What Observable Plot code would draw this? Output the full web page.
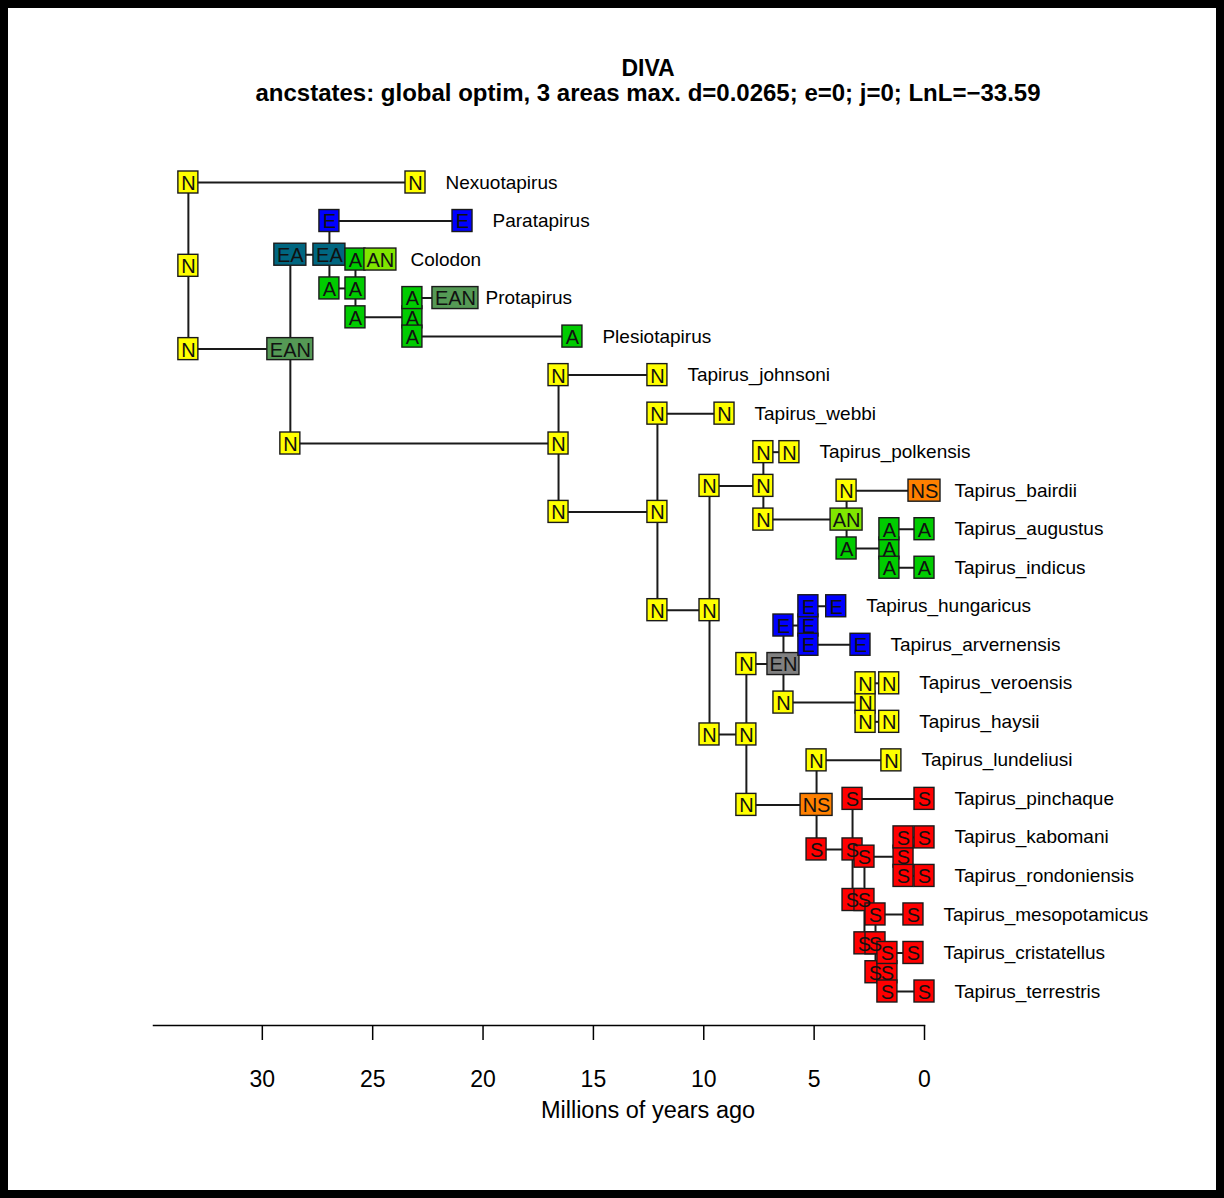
<!DOCTYPE html>
<html><head><meta charset="utf-8">
<script src="https://cdn.jsdelivr.net/npm/d3@7"></script>
<script src="https://cdn.jsdelivr.net/npm/@observablehq/plot@0.6"></script>
<style>
body{margin:0;background:#fff;font-family:"Liberation Sans",Arial,Helvetica,sans-serif;}
#wrap{position:relative;width:1224px;height:1198px;overflow:hidden;background:#fff;}
#chart{position:absolute;left:0;top:0;}
#frame{position:absolute;left:0;top:0;width:1224px;height:1198px;box-sizing:border-box;border:8px solid #000;pointer-events:none;}
.t{position:absolute;left:0;width:1296px;text-align:center;color:#000;white-space:nowrap;line-height:1;}
</style></head><body>
<div id="wrap">
<div id="chart"></div>
<div class="t" style="top:57px;font-size:23px;font-weight:bold;">DIVA</div>
<div class="t" style="top:81px;font-size:24px;font-weight:bold;">ancstates: global optim, 3 areas max. d=0.0265; e=0; j=0; LnL=−33.59</div>
<div class="t" style="top:1099px;font-size:23.5px;">Millions of years ago</div>
<div id="frame"></div>
</div>
<script>
// ---- data ----
const tipNames = ["Nexuotapirus","Paratapirus","Colodon","Protapirus","Plesiotapirus","Tapirus_johnsoni","Tapirus_webbi","Tapirus_polkensis","Tapirus_bairdii","Tapirus_augustus","Tapirus_indicus","Tapirus_hungaricus","Tapirus_arvernensis","Tapirus_veroensis","Tapirus_haysii","Tapirus_lundeliusi","Tapirus_pinchaque","Tapirus_kabomani","Tapirus_rondoniensis","Tapirus_mesopotamicus","Tapirus_cristatellus","Tapirus_terrestris"];
const tipAges = [23.06,20.93,24.65,21.25,15.95,12.10,9.06,6.12,0,0,0,4.0,2.9,1.6,1.6,1.5,0,0,0,0.5,0.5,0];
const tipStates = ["N","E","AN","EAN","A","N","N","N","NS","A","A","E","E","N","N","N","S","S","S","S","S","S"];

const nodeIds = ["n1","n2","n3","n4","n5","n6","n7","n8","n9","n10","n11","n12","n13","n14","n15","n16","n17","n18","n19","n20","n21"];
const nodeAges = [33.35,28.73,26.96,25.78,23.2,16.58,12.10,9.74,7.30,3.53,1.59,8.07,6.39,5.26,2.67,4.89,3.26,2.72,0.95,2.22,1.68];
const nodeStates = ["N","EAN","EA","A","A","N","N","N","N","AN","A","N","EN","E","N","NS","S","S","S","S","S"];
const nodeChildren = [
  ["Nexuotapirus","n2"],["n3","n6"],["Paratapirus","n4"],["Colodon","n5"],["Protapirus","Plesiotapirus"],
  ["Tapirus_johnsoni","n7"],["Tapirus_webbi","n8"],["n9","n12"],["Tapirus_polkensis","n10"],["Tapirus_bairdii","n11"],
  ["Tapirus_augustus","Tapirus_indicus"],["n13","n16"],["n14","n15"],["Tapirus_hungaricus","Tapirus_arvernensis"],
  ["Tapirus_veroensis","Tapirus_haysii"],["Tapirus_lundeliusi","n17"],["Tapirus_pinchaque","n18"],["n19","n20"],
  ["Tapirus_kabomani","Tapirus_rondoniensis"],["Tapirus_mesopotamicus","n21"],["Tapirus_cristatellus","Tapirus_terrestris"]
];
const cornerStates = [
  ["N","N"],["EA","N"],["E","A"],["A","A"],["A","A"],
  ["N","N"],["N","N"],["N","N"],["N","N"],["N","A"],
  ["A","A"],["N","N"],["E","N"],["E","E"],
  ["N","N"],["N","S"],["S","S"],["S","S"],
  ["S","S"],["S","S"],["S","S"]
];
const stateNames = ["N","E","A","S","EA","AN","EAN","NS","EN"];
const stateColors = ["#FFFF00","#0000FF","#00CC00","#FF0000","#006680","#80E600","#559955","#FF8000","#808080"];
const tickValues = [30,25,20,15,10,5,0];

// ---- build ----
const colorOf = Object.fromEntries(stateNames.map((s,i)=>[s,stateColors[i]]));
const info = {};
tipNames.forEach((n,i)=>{ info[n] = {age: tipAges[i], y: i, tip: true}; });
nodeIds.forEach((n,i)=>{ info[n] = {age: nodeAges[i], kids: nodeChildren[i], tip: false}; });
function yOf(id){ const d = info[id]; if (d.y === undefined) d.y = d3.mean(d.kids, yOf); return d.y; }
nodeIds.forEach(yOf);

const W = 1224, H = 1198, mL = 153, mR = 300, mT = 150, mB = 173;
const xMax = 34.93;
const pxPerMyr = (W - mL - mR) / xMax;
const pxPerRow = (991 - 182) / 21;

const segs = [];
nodeIds.forEach((id,i)=>{
  const d = info[id];
  const ys = d.kids.map(k=>info[k].y);
  segs.push({x1: d.age, x2: d.age, y1: d3.min(ys), y2: d3.max(ys)});
  d.kids.forEach(k=>segs.push({x1: d.age, x2: info[k].age, y1: info[k].y, y2: info[k].y}));
});

const boxes = [];
nodeIds.forEach((id,i)=>{
  const d = info[id];
  boxes.push({x: d.age, y: d.y, state: nodeStates[i]});
  d.kids.forEach((k,j)=>boxes.push({x: d.age, y: info[k].y, state: cornerStates[i][j]}));
});
tipNames.forEach((n,i)=>boxes.push({x: tipAges[i], y: i, state: tipStates[i]}));
const boxW = {1: 20, 2: 32, 3: 46}, boxH = 22;
boxes.forEach(b=>{
  const hw = boxW[b.state.length]/2/pxPerMyr, hh = boxH/2/pxPerRow;
  b.x1 = b.x + hw; b.x2 = b.x - hw; b.y1 = b.y - hh; b.y2 = b.y + hh; b.fill = colorOf[b.state];
});
const tips = tipNames.map((n,i)=>({name: n, x: tipAges[i], y: i}));

const chart = Plot.plot({
  width: W, height: H,
  marginLeft: mL, marginRight: mR, marginTop: mT, marginBottom: mB,
  x: {domain: [xMax, 0]},
  y: {domain: [0, 21], range: [182, 991], axis: null},
  color: {type: "identity"},
  style: {fontFamily: "'Liberation Sans', Arial, Helvetica, sans-serif", background: "transparent", overflow: "visible", color: "#000"},
  marks: [
    Plot.link(segs, {x1: "x1", y1: "y1", x2: "x2", y2: "y2", stroke: "#1a1a1a", strokeWidth: 2}),
    Plot.rect(boxes, {x1: "x1", x2: "x2", y1: "y1", y2: "y2", fill: "fill", stroke: "#1a1a1a", strokeWidth: 1.4}),
    Plot.text(boxes, {x: "x", y: "y", text: "state", fontSize: 20, fill: "#111", dy: 1}),
    Plot.text(tips, {x: "x", y: "y", text: "name", dx: 30, textAnchor: "start", fontSize: 19, fill: "#000"}),
    Plot.axisX(tickValues, {tickSize: 15, tickPadding: 30, fontSize: 23, label: null, strokeWidth: 1.5}),
    Plot.frame({anchor: "bottom", strokeWidth: 1.5})
  ]
});
document.getElementById("chart").appendChild(chart);
const svg = d3.select(chart);
svg.append("defs").append("clipPath").attr("id","tipclip").attr("clipPathUnits","userSpaceOnUse")
  .append("rect").attr("x",0).attr("y",0).attr("width",1143).attr("height",H);
const nameSet = new Set(tipNames);
const groups = new Set();
svg.selectAll("text").each(function(){ if (nameSet.has(this.textContent)) groups.add(this.parentNode); });
groups.forEach(g=>g.setAttribute("clip-path","url(#tipclip)"));
</script>
</body></html>
